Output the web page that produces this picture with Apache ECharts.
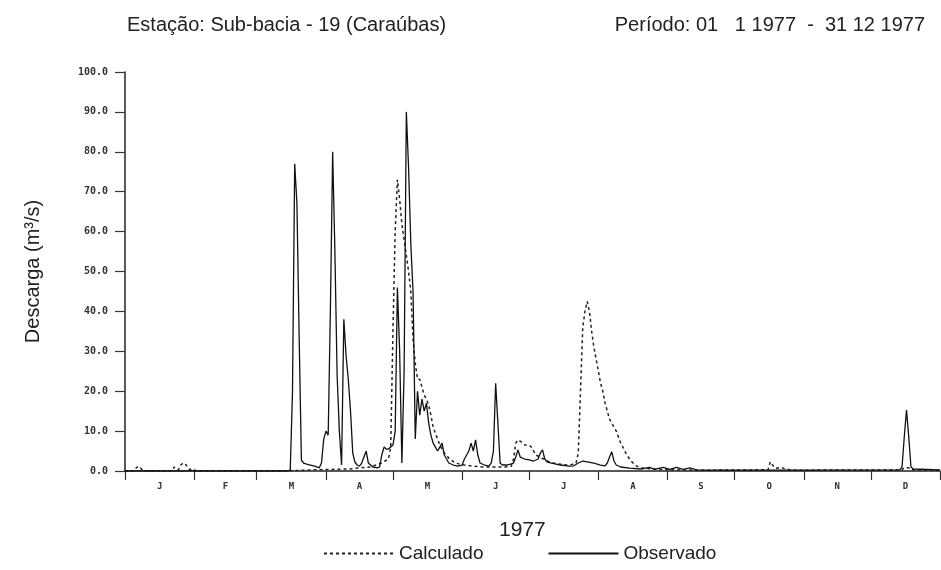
<!DOCTYPE html>
<html>
<head>
<meta charset="utf-8">
<script src="https://cdn.jsdelivr.net/npm/echarts@6/dist/echarts.min.js"></script>
<style>
html,body{margin:0;padding:0;background:#fff;}
#chart{width:941px;height:570px;}
</style>
</head>
<body>
<div id="chart"></div>
<script>
// Month boundaries (day of year) and month letters
var monthBounds = [0, 31, 59, 90, 120, 151, 181, 212, 243, 273, 304, 334, 365];
var monthLetters = ['J', 'F', 'M', 'A', 'M', 'J', 'J', 'A', 'S', 'O', 'N', 'D'];
var yTicks = [0, 10, 20, 30, 40, 50, 60, 70, 80, 90, 100];

// Observado (solid) — day of year / discharge m3/s
var obsDays = [0, 73, 74, 75, 76, 77, 78, 79, 80, 81, 83, 85, 87, 88, 89, 90, 91, 92, 93, 94, 95, 96, 97, 98, 99, 100, 101, 102, 103, 104, 105, 106, 107, 108, 109, 111, 113, 114, 115, 116, 117, 118, 119, 120, 121, 122, 123, 124, 125, 126, 127, 128, 129, 130, 131, 132, 133, 134, 135, 136, 137, 138, 139, 140, 141, 142, 143, 144, 145, 147, 149, 151, 152, 153, 154, 155, 156, 157, 158, 159, 161, 163, 164, 165, 166, 167, 168, 169, 171, 173, 174, 175, 176, 177, 179, 181, 183, 185, 186, 187, 188, 189, 191, 195, 199, 201, 203, 205, 207, 210, 213, 215, 216, 217, 218, 219, 220, 222, 226, 231, 235, 237, 241, 244, 247, 250, 253, 256, 261, 300, 347, 348, 349, 350, 351, 352, 353, 365];
var obsVals = [0, 0, 0.3, 19.5, 77, 67, 33.5, 2.7, 2, 1.8, 1.5, 1.2, 0.8, 2, 8, 10, 9, 41, 80, 55, 24, 10, 1.5, 38, 29, 23, 15, 4.5, 2.2, 1.5, 1.2, 2, 3.5, 5, 2, 1, 0.8, 1, 4, 6, 5.5, 5.5, 6, 6.5, 10, 46, 30, 2, 25, 90, 76, 57, 45, 8, 20, 14, 18, 15, 17, 12, 9, 7, 6, 5, 6, 7, 4, 3, 2, 1.5, 1.2, 1.5, 3, 4, 5, 7, 5, 7.8, 4, 2, 1.5, 1.2, 2, 5, 22, 12, 2, 1.5, 1.5, 1.8, 2, 3.5, 5.3, 3.5, 3, 2.8, 2.5, 3, 4.5, 5.3, 3, 2.3, 2, 1.5, 1.2, 1.3, 2, 2.5, 2.3, 2, 1.5, 1.3, 2, 3.5, 4.8, 2.5, 1.5, 1, 0.7, 0.5, 0.9, 0.4, 0.9, 0.4, 0.9, 0.4, 0.8, 0.3, 0.2, 0.2, 0.3, 1, 8.6, 15.3, 8.6, 1, 0.5, 0.3];

// Calculado (dashed)
var calcDays = [0, 4, 5, 6, 7, 8, 21, 22, 23, 24, 25, 26, 27, 28, 29, 30, 31, 32, 70, 85, 100, 110, 115, 118, 119, 120, 121, 122, 123, 124, 125, 126, 127, 128, 129, 130, 131, 132, 133, 134, 135, 136, 137, 138, 139, 140, 141, 142, 143, 144, 145, 146, 148, 150, 152, 156, 160, 170, 173, 174, 175, 176, 177, 178, 179, 181, 182, 183, 184, 186, 188, 190, 192, 195, 198, 200, 202, 203, 204, 205, 206, 207, 208, 209, 210, 211, 212, 213, 214, 215, 216, 217, 218, 219, 220, 221, 222, 223, 224, 225, 226, 227, 228, 229, 230, 232, 236, 245, 260, 288, 289, 290, 291, 292, 294, 296, 300, 348, 349, 351, 352, 365];
var calcVals = [0, 0, 0.8, 1.2, 0.8, 0, 0, 1, 0.5, 0.3, 1.5, 2, 1.8, 1, 0.3, 0.6, 0.3, 0, 0, 0.3, 0.5, 1, 2, 3, 6, 35, 60, 73, 68, 62, 58, 54, 50, 45, 33, 27, 23, 23, 21, 19, 18, 16.5, 14, 11, 9.5, 8, 6.5, 5.5, 4.5, 4, 3.2, 2.8, 2, 1.7, 1.5, 1.2, 1, 1, 1.2, 3, 7, 7.8, 7.5, 7, 6.5, 6.5, 6, 5, 4, 3.5, 2.8, 2.3, 2, 1.7, 1.5, 1.6, 2, 4.5, 20, 36, 40, 42.5, 40, 35, 31, 28, 25, 22, 20, 17, 15, 13, 12, 11, 10, 8.5, 7, 6, 4.8, 3.8, 3, 2.3, 1.8, 1.3, 1, 0.7, 0.5, 0.3, 0.2, 0.3, 2.3, 1.5, 0.8, 0.7, 0.9, 0.4, 0.2, 0.3, 0.8, 0.8, 0.3, 0.2];

function pairs(xs, ys) { return xs.map(function (x, i) { return [x, ys[i]]; }); }
var monthMids = monthLetters.map(function (m, i) { return (monthBounds[i] + monthBounds[i + 1]) / 2; });

var textFont = "'Liberation Sans', Arial, sans-serif";
var chart = echarts.init(document.getElementById('chart'));
chart.setOption({
  animation: false,
  backgroundColor: '#ffffff',
  title: [
    { text: 'Estação: Sub-bacia - 19 (Caraúbas)', left: 122, top: 10,
      textStyle: { fontFamily: textFont, fontSize: 20, fontWeight: 'normal', color: '#222' } },
    { text: 'Período: 01   1 1977  -  31 12 1977', right: 11, top: 10,
      textStyle: { fontFamily: textFont, fontSize: 20, fontWeight: 'normal', color: '#222' } },
    { text: '1977', left: 494, top: 515,
      textStyle: { fontFamily: textFont, fontSize: 21, fontWeight: 'normal', color: '#222' } }
  ],
  legend: {
    left: 318, top: 539,
    itemWidth: 70, itemHeight: 14, itemGap: 64,
    itemStyle: { opacity: 0 },
    textStyle: { fontFamily: textFont, fontSize: 19, color: '#222' },
    data: ['Calculado', 'Observado']
  },
  grid: { left: 125, right: 1, top: 72, bottom: 99, containLabel: false },
  xAxis: {
    type: 'value', min: 0, max: 365,
    axisLine: { show: true, onZero: false, lineStyle: { color: '#222', width: 1.5 } },
    axisTick: { show: true, customValues: monthBounds, length: 9, lineStyle: { color: '#333', width: 1.2 } },
    axisLabel: {
      show: true, customValues: monthMids, margin: 11,
      fontFamily: "'DejaVu Sans Mono', monospace", fontSize: 9, fontWeight: 'bold', color: '#333',
      formatter: function (v) {
        var i = monthMids.indexOf(v);
        return i >= 0 ? monthLetters[i] : '';
      }
    },
    splitLine: { show: false }
  },
  yAxis: {
    type: 'value', min: 0, max: 100, interval: 10,
    name: 'Descarga (m³/s)', nameLocation: 'middle', nameGap: 82, nameRotate: 90,
    nameTextStyle: { fontFamily: textFont, fontSize: 20, color: '#222' },
    axisLine: { show: true, lineStyle: { color: '#222', width: 1.5 } },
    axisTick: { show: true, length: 10, lineStyle: { color: '#333', width: 1.2 } },
    axisLabel: {
      margin: 17,
      fontFamily: "'DejaVu Sans Mono', monospace", fontSize: 10, fontWeight: 'bold', color: '#333',
      formatter: function (v) { return v.toFixed(1); }
    },
    splitLine: { show: false }
  },
  series: [
    {
      name: 'Calculado', type: 'line', symbol: 'none', smooth: false,
      lineStyle: { color: '#222', width: 1.5, type: [3, 3] },
      itemStyle: { color: '#222' },
      data: pairs(calcDays, calcVals), z: 2
    },
    {
      name: 'Observado', type: 'line', symbol: 'none', smooth: false,
      lineStyle: { color: '#111', width: 1.3, type: 'solid' },
      itemStyle: { color: '#111' },
      data: pairs(obsDays, obsVals), z: 3
    }
  ]
});
</script>
</body>
</html>
